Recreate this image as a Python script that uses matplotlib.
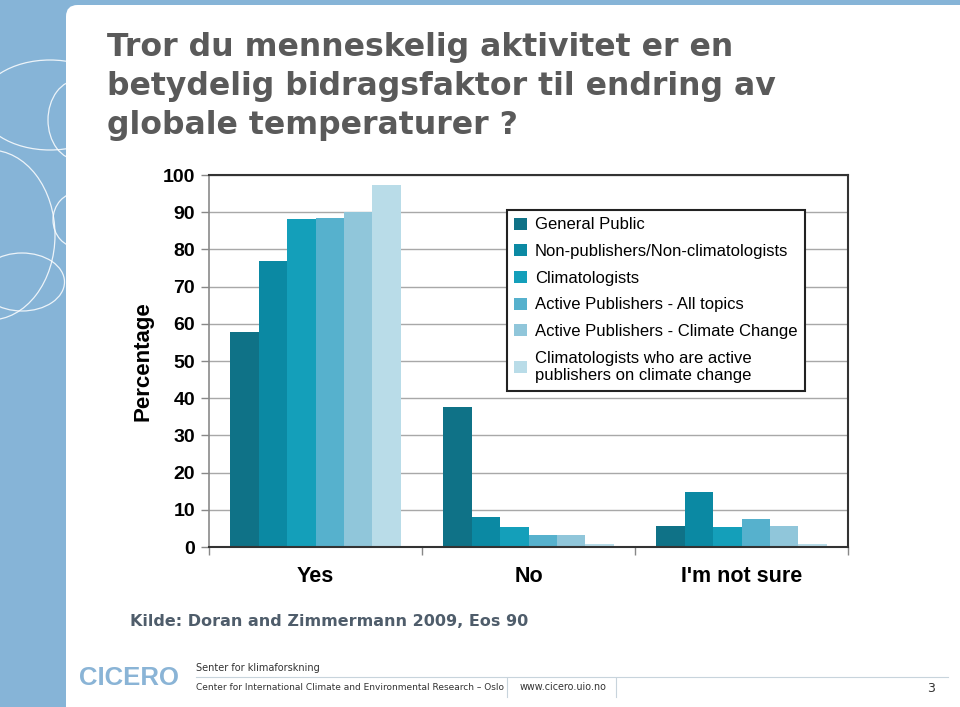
import matplotlib.pyplot as plt
import numpy as np
from matplotlib.patches import FancyBboxPatch, Ellipse
from matplotlib.lines import Line2D

categories = ["Yes", "No", "I'm not sure"]
groups = ["General Public",
          "Non-publishers/Non-climatologists",
          "Climatologists",
          "Active Publishers - All topics",
          "Active Publishers - Climate Change",
          "Climatologists who are active\npublishers on climate change"]
general_public = [57.7, 37.7, 5.7]
non_publishers = [76.9, 8.1, 14.8]
climatologists = [88.2, 5.4, 5.4]
publishers_all = [88.4, 3.1, 7.6]
publishers_cc = [90.0, 3.1, 5.7]
climatologists_cc = [97.4, 0.9, 0.9]
series = [general_public, non_publishers, climatologists,
          publishers_all, publishers_cc, climatologists_cc]
colors = ["#0f7287", "#0b89a3", "#149fba", "#56b1cd", "#90c6da", "#b9dce8"]

fig = plt.figure(figsize=(9.6, 7.07), dpi=100)
fig.patch.set_facecolor("#86b4d7")

# slide decoration: circles on the blue strip, white panel
for (cx, cy, w, h) in [(50, 105, 140, 90), (-10, 235, 130, 170), (78, 120, 60, 80),
                       (78, 220, 50, 55), (22, 282, 85, 58)]:
    fig.add_artist(Ellipse((cx / 960, 1 - cy / 707), w / 960, h / 707,
                           fill=False, ec="white", lw=0.9, alpha=0.85, zorder=-2))
fig.add_artist(FancyBboxPatch((66 / 960, -0.05), 1.0, 1 - 5 / 707 + 0.05,
                              boxstyle="round,pad=0,rounding_size=0.012",
                              fc="white", ec="none", mutation_aspect=960 / 707,
                              zorder=-1))

fig.text(107 / 960, 1 - 32 / 707,
         "Tror du menneskelig aktivitet er en\nbetydelig bidragsfaktor til endring av\nglobale temperaturer ?",
         fontsize=22.7, fontweight="bold", color="#5a5a5a", va="top", ha="left",
         family="DejaVu Sans", linespacing=1.33)

ax = fig.add_axes([209 / 960, 1 - 547 / 707, 639 / 960, 372 / 707])
ax.set_facecolor("white")
x = np.arange(len(categories))
width = 0.8 / len(series)
for i, (vals, c, lab) in enumerate(zip(series, colors, groups)):
    ax.bar(x - 0.4 + width * (i + 0.5), vals, width=width, color=c, label=lab,
           zorder=2, linewidth=0)

ax.set_xlim(-0.5, 2.5)
ax.set_ylim(0, 100)
ax.set_yticks(range(0, 101, 10))
ax.yaxis.grid(True, color="#a8a8a8", lw=1.0, zorder=0)
ax.set_axisbelow(True)
ax.set_xticks(x)
ax.set_xticklabels(categories, fontsize=15.5, fontweight="bold", family="Liberation Sans")
ax.set_xticks([-0.5, 0.5, 1.5, 2.5], minor=True)
ax.tick_params(axis="x", which="major", length=0, pad=14)
ax.tick_params(axis="x", which="minor", length=6, color="#888888", width=1)
ax.tick_params(axis="y", length=6, color="#888888", width=1, pad=4)
for t in ax.get_yticklabels():
    t.set_fontsize(14)
    t.set_fontweight("bold")
    t.set_family("Liberation Sans")
ax.set_ylabel("Percentage", fontsize=16, fontweight="bold", family="Liberation Sans", labelpad=7)

ax.spines["left"].set_color("#8a8a8a")
ax.spines["left"].set_linewidth(1.2)
for s in ["top", "right", "bottom"]:
    ax.spines[s].set_color("#333333")
    ax.spines[s].set_linewidth(1.5)

leg = ax.legend(loc="upper left", bbox_to_anchor=(0.466, 0.906), frameon=True,
                fancybox=False, edgecolor="#222222", framealpha=1,
                prop={"family": "Liberation Sans", "size": 12},
                handlelength=0.75, handleheight=0.75, handletextpad=0.5,
                labelspacing=0.7, borderpad=0.45, borderaxespad=0)
leg.get_frame().set_linewidth(1.5)
leg.set_zorder(5)

fig.text(130 / 960, 1 - 622 / 707, "Kilde: Doran and Zimmermann 2009, Eos 90",
         fontsize=11.5, fontweight="bold", color="#4f5d6b", va="center", ha="left",
         family="DejaVu Sans")

# footer
fig.text(79 / 960, 1 - 678 / 707, "CICERO", fontsize=18.5, fontweight="bold",
         color="#8ab4d6", va="center", ha="left", family="Liberation Sans")
fig.text(196 / 960, 1 - 668 / 707, "Senter for klimaforskning", fontsize=7,
         color="#333333", va="center", ha="left", family="DejaVu Sans")
fig.text(196 / 960, 1 - 687 / 707,
         "Center for International Climate and Environmental Research \u2013 Oslo",
         fontsize=6.5, color="#333333", va="center", ha="left", family="DejaVu Sans")
fig.text(520 / 960, 1 - 687 / 707, "www.cicero.uio.no", fontsize=6.9,
         color="#333333", va="center", ha="left", family="DejaVu Sans")
fig.text(927 / 960, 1 - 688 / 707, "3", fontsize=9, color="#333333",
         va="center", ha="left", family="DejaVu Sans")
fig.add_artist(Line2D([196 / 960, 948 / 960], [1 - 677 / 707] * 2, color="#c8d4dc", lw=0.8))
fig.add_artist(Line2D([507 / 960] * 2, [1 - 697 / 707, 1 - 678 / 707], color="#c8d4dc", lw=0.8))
fig.add_artist(Line2D([616 / 960] * 2, [1 - 697 / 707, 1 - 678 / 707], color="#c8d4dc", lw=0.8))

fig.savefig("out.png", dpi=100)
